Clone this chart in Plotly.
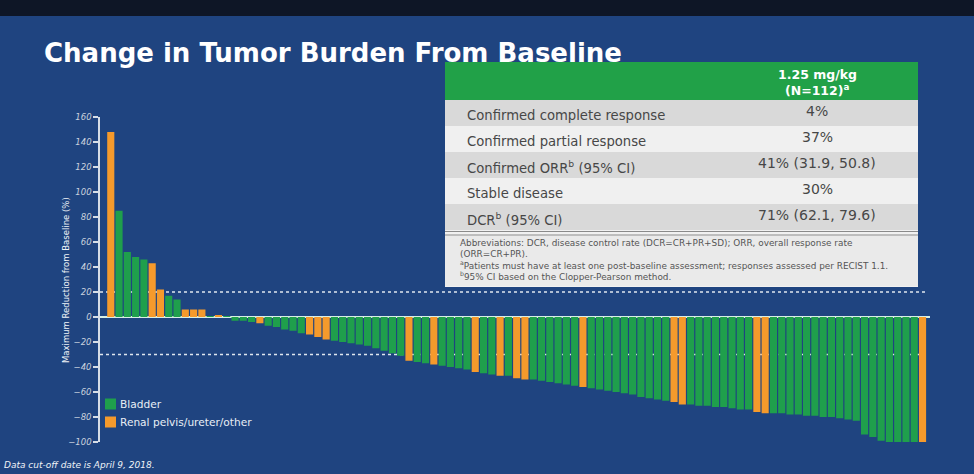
import plotly.graph_objects as go

# ---------------- data ----------------
values = [148, 85, 52, 48, 46, 43, 22, 17, 14, 6, 6, 6, 0.6, 1.5, 0.3,
          -3, -3, -4, -5, -7, -8, -10, -11, -13, -14, -16, -18,
          -19, -20, -21, -22, -23, -25, -27, -29, -31,
          -35, -36, -37, -38, -39, -40, -41, -42, -44, -45, -46, -47, -47, -49, -50,
          -50, -51, -52, -53, -54, -55, -56,
          -57, -58, -59, -60, -61, -62, -64, -65, -66, -67,
          -68, -70,
          -70, -71, -71, -72, -72, -73, -74, -74,
          -76, -77,
          -77, -77, -78, -78, -79, -79, -80, -80, -81, -82, -83,
          -94, -96, -99, -100, -100, -100, -100,
          -100]
tumor_type = (["R", "B", "B", "B", "B", "R", "R", "B", "B", "R", "R", "R", "B", "R", "B"]
              + ["B", "B", "B", "R", "B", "B", "B", "B", "B", "R", "R", "R"]
              + ["B"] * 9
              + ["R", "B", "B", "R", "B", "B", "B", "B", "R", "B", "B", "R", "B", "R", "R"]
              + ["B"] * 6 + ["R"]
              + ["B"] * 10
              + ["R", "R"]
              + ["B"] * 8
              + ["R", "R"]
              + ["B"] * 11
              + ["B"] * 7
              + ["R"])
series_keys = ["B", "R"]
series_names = {"B": "Bladder", "R": "Renal pelvis/ureter/other"}
series_colors = {"B": "#1f9f4c", "R": "#f59a2c"}
y_ticks = [-100, -80, -60, -40, -20, 0, 20, 40, 60, 80, 100, 120, 140, 160]
ref_lines = [20, -30]

table_header = ["1.25 mg/kg", "(N=112)<sup>a</sup>"]
table_rows = ["Confirmed complete response", "Confirmed partial response",
              "Confirmed ORR<sup>b</sup> (95% CI)", "Stable disease",
              "DCR<sup>b</sup> (95% CI)"]
table_vals = ["4%", "37%", "41% (31.9, 50.8)", "30%", "71% (62.1, 79.6)"]
footnotes = ["Abbreviations: DCR, disease control rate (DCR=CR+PR+SD); ORR, overall response rate",
             "(ORR=CR+PR).",
             "<sup>a</sup>Patients must have at least one post-baseline assessment; responses assessed per RECIST 1.1.",
             "<sup>b</sup>95% CI based on the Clopper-Pearson method."]
title_text = "Change in Tumor Burden From Baseline"
ytitle = "Maximum Reduction from Baseline (%)"
cutoff_text = "Data cut-off date is April 9, 2018."

# ---------------- geometry helpers ----------------
W, H = 974, 474
L, R, T, B = 100, 930, 117, 442


def px(x):
    return (x - L) / (R - L)


def py(y):
    return (B - y) / (B - T)


FONT = "DejaVu Sans"
fig = go.Figure()

for key in series_keys:
    xs = [i for i, t in enumerate(tumor_type) if t == key]
    ys = [values[i] for i in xs]
    fig.add_trace(go.Bar(x=xs, y=ys, name=series_names[key],
                         marker=dict(color=series_colors[key], line=dict(width=0)),
                         width=0.86, showlegend=False))

shapes = []
ann = []
# dark top band (screen edge)
shapes.append(dict(type="rect", xref="paper", yref="paper", x0=px(0), x1=px(W),
                   y0=py(0), y1=py(16), fillcolor="#0e1626", line=dict(width=0), layer="below"))
# reference dotted lines
for v in ref_lines:
    shapes.append(dict(type="line", xref="paper", yref="y", x0=0, x1=px(926), y0=v, y1=v,
                       line=dict(color="#dfe6ee", width=1.4, dash="dot"), layer="below"))

# legend (drawn by hand so the swatch sits right next to its text)
for k, key in enumerate(series_keys):
    yc = 404 + k * 18
    shapes.append(dict(type="rect", xref="paper", yref="paper", x0=px(105), x1=px(116),
                       y0=py(yc + 5.5), y1=py(yc - 5.5), fillcolor=series_colors[key],
                       line=dict(width=0)))
    ann.append(dict(text=series_names[key], x=px(118), y=py(yc), xref="paper", yref="paper",
                    xanchor="left", yanchor="middle", showarrow=False,
                    font=dict(family=FONT, size=10.6, color="#e8eef5")))

# table
tx0, tx1 = 445, 918
shapes.append(dict(type="rect", xref="paper", yref="paper", x0=px(tx0), x1=px(tx1),
                   y0=py(287), y1=py(62), fillcolor="#f1f1f1", line=dict(width=0)))
shapes.append(dict(type="rect", xref="paper", yref="paper", x0=px(tx0), x1=px(tx1),
                   y0=py(100), y1=py(62), fillcolor="#21a148", line=dict(width=0)))
row_edges = [100, 126, 152, 178, 204, 230]
for i in range(5):
    col = "#d9d9d9" if i % 2 == 0 else "#f0f0f0"
    shapes.append(dict(type="rect", xref="paper", yref="paper", x0=px(tx0), x1=px(tx1),
                       y0=py(row_edges[i + 1]), y1=py(row_edges[i]), fillcolor=col,
                       line=dict(width=0)))
for yy in [231.5, 235]:
    shapes.append(dict(type="line", xref="paper", yref="paper", x0=px(tx0), x1=px(tx1),
                       y0=py(yy), y1=py(yy), line=dict(color="#8a8a8a", width=1)))
shapes.append(dict(type="rect", xref="paper", yref="paper", x0=px(tx0), x1=px(tx1),
                   y0=py(286), y1=py(236), fillcolor="#eaeaea", line=dict(width=0)))

ann.append(dict(text=title_text, x=px(42), y=py(53), xref="paper", yref="paper",
                xanchor="left", yanchor="middle", showarrow=False,
                font=dict(family=FONT, size=26, color="#ffffff", weight="bold")))
ann.append(dict(text=ytitle, x=px(66), y=py(280), xref="paper", yref="paper",
                textangle=-90, xanchor="center", yanchor="middle", showarrow=False,
                font=dict(family=FONT, size=8.5, color="#f0f4f8")))
ann.append(dict(text=cutoff_text, x=px(2), y=py(465), xref="paper", yref="paper",
                xanchor="left", yanchor="middle", showarrow=False,
                font=dict(family=FONT, size=9, color="#f0f4f8", style="italic")))
for j, t in enumerate(table_header):
    ann.append(dict(text=t, x=px(817), y=py(74 + j * 16), xref="paper", yref="paper",
                    xanchor="center", yanchor="middle", showarrow=False,
                    font=dict(family=FONT, size=12.5, color="#ffffff", weight="bold")))
for i in range(5):
    yc = (row_edges[i] + row_edges[i + 1]) / 2
    ann.append(dict(text=table_rows[i], x=px(465), y=py(yc + 2), xref="paper", yref="paper",
                    xanchor="left", yanchor="middle", showarrow=False,
                    font=dict(family=FONT, size=13.2, color="#474747")))
    ann.append(dict(text=table_vals[i], x=px(817), y=py(yc - 2), xref="paper", yref="paper",
                    xanchor="center", yanchor="middle", showarrow=False,
                    font=dict(family=FONT, size=14, color="#474747")))
for k, t in enumerate(footnotes):
    ann.append(dict(text=t, x=px(458), y=py(243 + k * 11), xref="paper", yref="paper",
                    xanchor="left", yanchor="middle", showarrow=False,
                    font=dict(family=FONT, size=8.9, color="#555555")))

fig.update_layout(
    width=W, height=H,
    margin=dict(l=L, r=W - R, t=T, b=H - B, pad=0),
    paper_bgcolor="#1f4480", plot_bgcolor="rgba(0,0,0,0)",
    barmode="overlay", bargap=0.1, showlegend=False,
    shapes=shapes, annotations=ann,
    font=dict(family=FONT, color="#e8eef5"),
    xaxis=dict(range=[-1.3, 98.9], visible=False, fixedrange=True),
    yaxis=dict(range=[-100, 160], tickvals=y_ticks, showgrid=False,
               showline=True, linecolor="#d6dde6", linewidth=1.5,
               ticks="outside", ticklen=5, tickcolor="#d6dde6", tickwidth=1.5,
               tickfont=dict(family=FONT, size=8.5, color="#c9d2de", style="italic"),
               zeroline=True, zerolinecolor="#d8efe6", zerolinewidth=2),
)

fig.write_html("out.html")
